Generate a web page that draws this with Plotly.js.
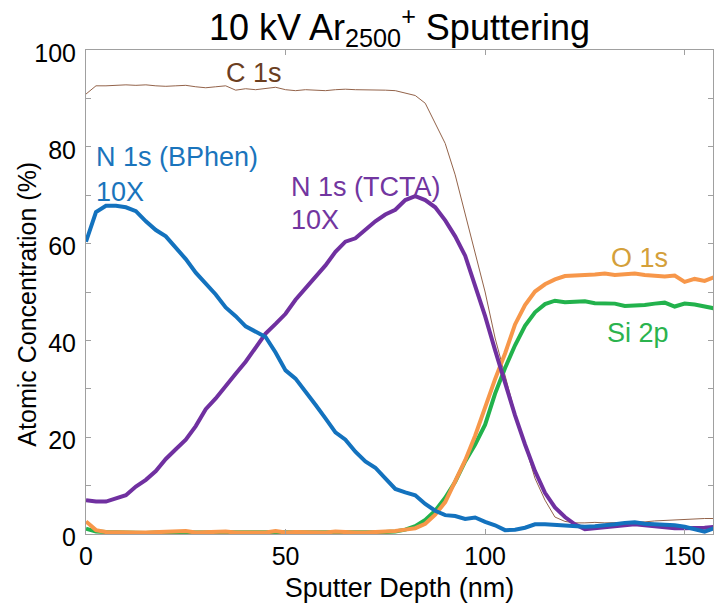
<!DOCTYPE html>
<html>
<head>
<meta charset="utf-8">
<script src="https://cdn.plot.ly/plotly-3.0.1.min.js"></script>
<style>html,body{margin:0;padding:0;background:#fff;}#chart{width:714px;height:605px;}</style>
</head>
<body>
<div id="chart"></div>
<script>
const depth = [0,2.5,5,7.5,10,12.5,15,17.5,20,22.5,25,27.5,30,32.5,35,37.5,40,42.5,45,47.5,50,52.5,55,57.5,60,62.5,65,67.5,70,72.5,75,77.5,80,82.5,85,87.5,90,92.5,95,97.5,100,102.5,105,107.5,110,112.5,115,117.5,120,122.5,125,127.5,130,132.5,135,137.5,140,142.5,145,147.5,150,152.5,155,157.5];

const c1s = [90.9,92.6,92.6,92.7,92.8,92.7,92.8,92.6,92.5,92.6,92.7,92.4,92.2,92.4,92.6,91.7,92,91.8,92.1,92.3,91.8,91.6,91.8,91.7,91.6,91.8,91.9,91.8,91.8,91.8,91.7,91.6,91.1,90.6,89,85,80.7,74.2,66,58.4,50,40.5,32.5,25,18.3,11.5,7,3.5,2.6,2.3,2.3,2.4,2.3,2.3,2.4,2.5,2.5,2.7,2.8,3,3.1,3.2,3.2,3.2];

const si2p = [1.1,0.5,0.4,0.3,0.2,0.3,0.2,0.3,0.3,0.2,0.3,0.2,0.3,0.3,0.4,0.3,0.2,0.3,0.4,0.3,0.3,0.2,0.3,0.3,0.4,0.3,0.3,0.2,0.3,0.3,0.4,0.5,0.9,1.6,2.9,4.8,7.5,10.8,15,18.5,22.6,29,34.3,39,43,45.8,47.5,48.2,47.9,48,48.1,47.7,47.7,47.6,47.1,47.1,47.3,47.6,47.8,47,47.6,47.4,47,46.6];

const o1s = [2.6,0.8,0.4,0.3,0.4,0.3,0.3,0.4,0.5,0.4,0.6,0.3,0.4,0.3,0.5,0.3,0.3,0.4,0.3,0.6,0.3,0.4,0.3,0.4,0.3,0.5,0.3,0.3,0.3,0.4,0.4,0.6,0.9,1.2,2.1,4,6.6,11,15.2,20.3,26.2,32,37.3,43.3,47.3,50.1,51.6,52.6,53.3,53.3,53.5,53.6,53.8,53.5,53.7,53.8,53.5,53.3,53.2,53.4,52.1,52.7,52.3,53.1];

const n1sTCTA = [7,6.7,6.7,7.4,8,9.8,11.2,13,15.5,17.5,19.5,22.3,25.8,28,30.4,33.1,35.6,38.5,41.4,43.4,45.5,48.4,50.8,52.9,55.5,58.3,60.4,61.1,62.8,64.6,66,67,69,69.8,69,67.5,64.8,61.5,57.5,51.5,45,38,31,24.5,18.5,13,8.5,5.5,3.5,2,1,1.2,1.6,1.8,1.9,2,1.8,1.6,1.3,1.2,1.2,1.2,1.3,1.5];

const n1sBPhen = [60.4,66.5,67.8,67.8,67.5,66.7,64.6,62.8,61.5,59.1,56.8,54,51.8,49.5,46.8,45,42.9,41.8,40.7,37.5,33.8,32.1,29.5,26.7,23.9,21,19.5,17,15,13.7,11.5,9.3,8.6,8,6.2,4.8,3.9,3.7,3.1,3.4,2.5,1.8,0.8,0.9,1.3,2,2,1.9,1.6,1.5,1.5,1.6,1.7,2,2.3,2.4,2.1,2,2,1.8,1.5,0.9,0.5,1.2];

const seriesNames = ['C 1s','Si 2p','O 1s','N 1s (TCTA) 10X','N 1s (BPhen) 10X'];
const seriesColors = ['#93634A','#22B24C','#F7974A','#7030A0','#1372BE'];
const seriesWidths = [1,4,4,4,4];
const seriesData = [c1s, si2p, o1s, n1sTCTA, n1sBPhen];

const traces = seriesData.map((ys,i)=>({
  x: depth, y: ys, type:'scatter', mode:'lines', name: seriesNames[i],
  line:{color: seriesColors[i], width: seriesWidths[i]}, showlegend:false, hoverinfo:'skip'
}));

const FONT = 'Liberation Sans, Arial, sans-serif';
const labelFont = (c)=>({family:FONT, size:27, color:c});

const annotations = [
  {text:'C 1s', x:42, y:95.2, xanchor:'center', font:labelFont('#6B3E1F')},
  {text:'N 1s (BPhen)', x:2.0, y:77.9, xanchor:'left', font:labelFont('#1A74BC')},
  {text:'10X', x:2.0, y:70.7, xanchor:'left', font:labelFont('#1A74BC')},
  {text:'N 1s (TCTA)', x:50.8, y:71.7, xanchor:'left', font:labelFont('#7236A0')},
  {text:'10X', x:50.8, y:64.9, xanchor:'left', font:labelFont('#7236A0')},
  {text:'O 1s', x:131, y:57.0, xanchor:'left', font:labelFont('#D4A03A')},
  {text:'Si 2p', x:130, y:41.5, xanchor:'left', font:labelFont('#2BB34E')}
].map(a=>Object.assign({xref:'x', yref:'y', yanchor:'middle', showarrow:false}, a));

annotations.push({text:'Atomic Concentration (%)', xref:'paper', yref:'y', x:-0.094, y:47.4,
  xanchor:'center', yanchor:'middle', textangle:-90, showarrow:false,
  font:{family:FONT, size:25, color:'#000'}});

const layout = {
  width:714, height:605,
  margin:{l:86, r:1, t:50, b:71},
  paper_bgcolor:'#fff', plot_bgcolor:'#fff',
  font:{family:FONT, color:'#000'},
  title:{text:'10 kV Ar<sub>2500</sub><sup>+</sup> Sputtering', font:{family:FONT, size:36, color:'#000'},
         x:0.5, xref:'paper', y:0.955, yref:'container', yanchor:'middle'},
  xaxis:{range:[0,157.1], tickvals:[0,50,100,150], ticks:'inside', ticklen:5, tickcolor:'#A0A0A0',
         showline:true, linecolor:'#A0A0A0', linewidth:1, mirror:'ticks', showgrid:false, zeroline:false,
         tickfont:{family:FONT, size:25, color:'#000'},
         title:{text:'Sputter Depth (nm)', font:{family:FONT, size:27, color:'#000'}, standoff:9}},
  yaxis:{range:[0,100], tickvals:[0,20,40,60,80,100], ticks:'inside', ticklen:5, tickcolor:'#A0A0A0',
         minor:{tickvals:[10,30,50,70,90], ticks:'inside', ticklen:5, tickcolor:'#A0A0A0'},
         showline:true, linecolor:'#A0A0A0', linewidth:1, mirror:'ticks', showgrid:false, zeroline:false,
         tickfont:{family:FONT, size:25, color:'#000'}, ticklabelstandoff:4, ticklabelshift:3},
  annotations: annotations
};

Plotly.newPlot('chart', traces, layout, {displayModeBar:false, staticPlot:true});
</script>
</body>
</html>
